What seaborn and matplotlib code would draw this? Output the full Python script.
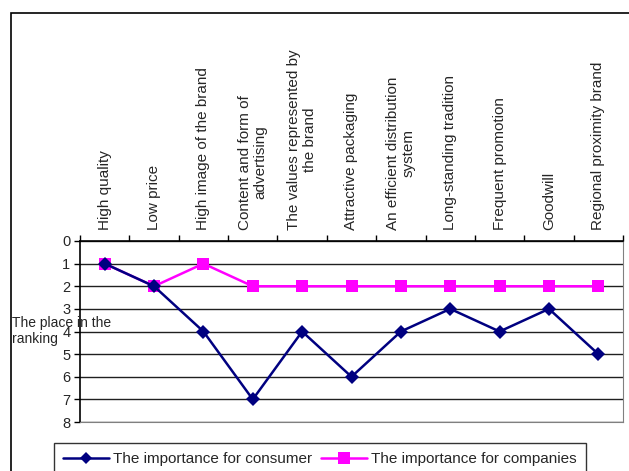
import pandas as pd
import numpy as np
import matplotlib
matplotlib.use("Agg")
import matplotlib.pyplot as plt
import seaborn as sns
from matplotlib.patches import Rectangle

# Data
categories = [
    "High quality",
    "Low price",
    "High image of the brand",
    "Content and form of\nadvertising",
    "The values represented by\nthe brand",
    "Attractive packaging",
    "An efficient distribution\nsystem",
    "Long-standing tradition",
    "Frequent promotion",
    "Goodwill",
    "Regional proximity brand",
]
consumer = [1, 2, 4, 7, 4, 6, 4, 3, 4, 3, 5]
companies = [1, 2, 1, 2, 2, 2, 2, 2, 2, 2, 2]
series_names = ["The importance for consumer", "The importance for companies"]

pos = np.arange(len(categories))
df = pd.concat([
    pd.DataFrame({"pos": pos, "rank": consumer, "series": series_names[0]}),
    pd.DataFrame({"pos": pos, "rank": companies, "series": series_names[1]}),
])

# Style
sns.set_style("white")
plt.rcParams['font.family'] = ['Liberation Sans', 'DejaVu Sans']
plt.rcParams['font.size'] = 10

fig = plt.figure(figsize=(6.29, 4.71), dpi=100)
ax = fig.add_axes([80 / 629, 1 - 422 / 471, 543 / 629, 181 / 471])

palette = {series_names[0]: "#000080", series_names[1]: "#FF00FF"}
markers = {series_names[0]: "D", series_names[1]: "s"}
sns.lineplot(data=df, x="pos", y="rank", hue="series", style="series",
             palette=palette, markers=markers, dashes=False, linewidth=1.8,
             markersize=7, markeredgewidth=0, ax=ax, legend=False)
# bigger squares for companies
for line in ax.get_lines():
    if line.get_marker() == "s":
        line.set_markersize(8.5)
        line.set_zorder(2)
    else:
        line.set_zorder(3)

# Axes
ax.set_xlim(-0.5, len(categories) - 0.5)
ax.set_ylim(8, 0)
ax.set_yticks(range(0, 9))
ax.yaxis.grid(True, color="#202020", linewidth=1)
ax.xaxis.grid(False)
ax.set_xlabel("")
ax.set_ylabel("")

ax.xaxis.tick_top()
ax.set_xticks(pos)
ax.set_xticklabels(categories, rotation=90, ha="center", va="bottom",
                   multialignment="center", fontsize=11)
ax.set_xticks(np.arange(-0.5, len(categories)), minor=True)
ax.tick_params(axis="x", which="major", length=0, pad=8)
ax.tick_params(axis="x", which="minor", top=True, length=4, width=1, color="black")
ax.tick_params(axis="y", left=True, length=4, width=1, color="black",
               labelsize=10.5, pad=3)

for side in ["left", "top"]:
    ax.spines[side].set_color("black")
    ax.spines[side].set_linewidth(1.2)
ax.spines["bottom"].set_color("#808080")
ax.spines["right"].set_color("#808080")

# Y axis title, horizontal
fig.text(12 / 629, 1 - 331 / 471, "The place in the\nranking",
         ha="left", va="center", fontsize=10, linespacing=1.2)

# Outer chart border
fig.patches.append(Rectangle((11 / 629, -0.1), 1.0, 1 - 13 / 471 + 0.1,
                             transform=fig.transFigure, fill=False,
                             edgecolor="black", linewidth=1.2))

# Legend
handles = [
    plt.Line2D([], [], color="#000080", marker="D", markersize=6, linewidth=1.8,
               markeredgewidth=0),
    plt.Line2D([], [], color="#FF00FF", marker="s", markersize=8, linewidth=1.8,
               markeredgewidth=0),
]
leg = fig.legend(handles, series_names, loc="upper center",
                 bbox_to_anchor=(320 / 629, 1 - 443 / 471), ncol=2,
                 frameon=True, fancybox=False, edgecolor="black",
                 fontsize=11, handlelength=3.0, handletextpad=0.25,
                 columnspacing=0.6, borderpad=0.6, borderaxespad=0)
leg.get_frame().set_linewidth(1)

plt.savefig("out.png", dpi=100)
plt.close()
